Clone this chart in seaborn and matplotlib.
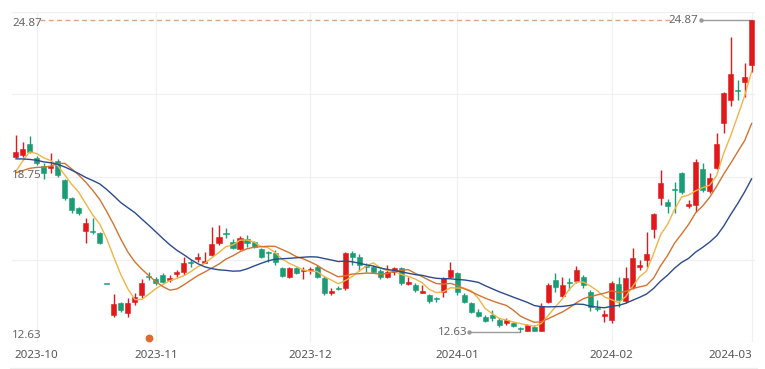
import numpy as np
import pandas as pd
import matplotlib
matplotlib.use("Agg")
import matplotlib.pyplot as plt
from matplotlib.lines import Line2D
from matplotlib.transforms import blended_transform_factory, offset_copy
import seaborn as sns

# ---------------- data ----------------
month_labels = ["2023-10", "2023-11", "2023-12", "2024-01", "2024-02", "2024-03"]
month_start_idx = [3, 20, 42, 63, 85, 105]

open_ = [19.50, 19.57, 20.01, 19.46, 19.14, 19.06, 19.34, 18.59, 17.89, 17.49,
         16.59, 16.59, 16.51, 14.51, 13.30, 13.77, 13.37, 13.81, 14.08, 14.83,
         14.71, 14.87, 14.67, 14.91, 14.98, 15.37, 15.49, 15.34, 15.65, 16.12,
         16.51, 16.16, 15.89, 16.28, 16.16, 15.89, 15.77, 15.73, 15.14, 14.79,
         15.14, 15.02, 15.06, 15.18, 14.75, 14.16, 14.36, 14.36, 15.73, 15.57,
         15.22, 15.18, 15.02, 14.79, 14.98, 15.14, 14.51, 14.47, 14.16, 14.08,
         13.96, 14.20, 14.79, 14.94, 14.08, 13.77, 13.41, 13.22, 13.30, 13.10,
         12.98, 12.98, 12.79, 12.67, 12.83, 12.67, 13.81, 14.67, 14.04, 14.59,
         14.63, 14.79, 14.20, 13.57, 13.26, 13.10, 14.51, 13.85, 14.40, 15.18,
         15.45, 16.67, 17.89, 17.73, 18.24, 18.87, 17.57, 17.61, 19.02, 18.16,
         19.06, 20.83, 21.73, 22.12, 22.44, 23.10]
high = [20.36, 20.08, 20.32, 19.53, 19.26, 19.65, 19.42, 18.63, 17.93, 17.53,
        17.10, 17.10, 16.55, 14.51, 14.12, 13.81, 13.96, 14.16, 14.71, 14.98,
        14.79, 14.94, 14.87, 15.06, 15.57, 15.45, 15.73, 15.77, 16.75, 16.83,
        16.71, 16.28, 16.40, 16.43, 16.20, 15.93, 15.81, 15.85, 15.18, 15.18,
        15.18, 15.18, 15.18, 15.26, 14.83, 14.36, 14.44, 15.77, 15.81, 15.69,
        15.34, 15.26, 15.10, 15.26, 15.18, 15.18, 14.79, 14.55, 14.47, 14.12,
        14.00, 14.79, 15.37, 14.98, 14.16, 13.81, 13.53, 13.30, 13.49, 13.18,
        13.18, 13.02, 12.83, 12.94, 12.90, 13.77, 14.55, 14.94, 14.79, 14.75,
        15.22, 14.87, 14.28, 13.89, 13.49, 14.63, 14.79, 15.18, 15.93, 15.45,
        16.55, 17.30, 18.99, 17.85, 18.51, 18.91, 17.81, 19.42, 19.26, 18.87,
        20.44, 22.05, 24.20, 22.52, 23.18, 24.87]
low = [19.46, 19.50, 19.65, 19.18, 18.63, 18.87, 18.71, 17.81, 17.30, 17.22,
       16.12, 16.47, 16.08, 14.51, 13.22, 13.41, 13.22, 13.69, 13.96, 14.67,
       14.47, 14.55, 14.59, 14.79, 14.87, 15.18, 15.37, 15.34, 15.61, 16.04,
       16.32, 15.89, 15.85, 15.96, 15.93, 15.53, 15.37, 15.26, 14.79, 14.75,
       14.91, 14.71, 14.91, 14.75, 14.08, 14.08, 14.28, 14.28, 15.26, 15.02,
       14.98, 14.94, 14.71, 14.75, 14.87, 14.47, 14.47, 14.20, 14.16, 13.77,
       13.81, 14.00, 14.75, 14.08, 13.77, 13.37, 13.22, 13.02, 13.06, 12.83,
       12.90, 12.83, 12.63, 12.65, 12.65, 12.65, 13.77, 14.20, 14.00, 14.28,
       14.55, 14.36, 13.45, 13.45, 13.02, 12.98, 13.61, 13.77, 14.32, 15.06,
       15.18, 16.32, 17.61, 17.30, 17.30, 18.04, 17.49, 17.34, 18.12, 18.08,
       19.02, 20.44, 21.50, 21.73, 21.85, 22.83]
close = [19.69, 19.81, 19.69, 19.26, 18.87, 19.14, 18.79, 17.89, 17.42, 17.30,
         16.91, 16.55, 16.12, 14.51, 13.73, 13.49, 13.77, 14.00, 14.55, 14.79,
         14.55, 14.59, 14.75, 14.98, 15.34, 15.34, 15.57, 15.41, 16.08, 16.36,
         16.47, 15.93, 16.32, 16.12, 15.96, 15.57, 15.73, 15.37, 14.83, 15.14,
         14.94, 15.06, 15.10, 14.79, 14.16, 14.24, 14.32, 15.73, 15.57, 15.26,
         15.18, 14.98, 14.79, 14.98, 15.14, 14.55, 14.59, 14.28, 14.24, 13.85,
         13.92, 14.75, 15.06, 14.20, 13.81, 13.41, 13.26, 13.06, 13.18, 12.90,
         13.10, 12.87, 12.75, 12.90, 12.67, 13.65, 14.47, 14.40, 14.47, 14.55,
         15.06, 14.47, 13.61, 13.53, 13.34, 14.55, 13.89, 14.75, 15.53, 15.26,
         15.69, 17.26, 18.48, 17.57, 18.20, 18.12, 17.65, 19.30, 18.20, 18.67,
         20.01, 22.01, 22.75, 22.08, 22.63, 24.87]
# closes before the visible window (estimated from the starting levels of the MA lines)
prior_close = [19.90, 20.05, 19.95, 20.10, 19.85, 19.98, 20.02, 19.92, 19.96, 19.97,
               18.95, 18.80, 18.90, 18.75, 18.75, 17.73, 17.89, 19.62, 19.68]
ma_periods = [5, 10, 20]
event_idx = [19]
event_price = [12.41]

# ---------------- styling ----------------
sns.set_theme(style="white")
plt.rcParams["font.family"] = ["Noto Sans", "DejaVu Sans"]

UP = "#e01a1a"
DOWN = "#1a9c74"
MA_COLORS = ["#f2b445", "#d27430", "#2c4b8c"]
GRID = "#f0f0f0"
TXT = "#666666"

n = len(close)
x = np.arange(n)
o = np.array(open_); h = np.array(high); l = np.array(low); c = np.array(close)

fig = plt.figure(figsize=(7.65, 3.69), dpi=100)
ax = fig.add_axes([12.2 / 765, 27 / 369, 743 / 765, 330 / 369])
ax.set_xlim(-0.5, n - 0.5)
ylo, yhi = 12.238, 25.184
ax.set_ylim(ylo, yhi)

for s in ax.spines.values():
    s.set_visible(False)
ax.set_xticks([]); ax.set_yticks([])

# grid
for k in range(5):
    yy = ylo + k * (yhi - ylo) / 4
    ax.axhline(yy, color=GRID, lw=0.9, zorder=0)
for mi in month_start_idx:
    ax.axvline(mi, color=GRID, lw=0.9, zorder=0)

# candles
prev = np.concatenate([[prior_close[-1]], c[:-1]])
is_up = (c > o) | ((c == o) & (c >= prev))
colors = np.where(is_up, UP, DOWN)
ax.vlines(x, l, h, colors=colors, lw=1.0, zorder=2)
body_bottom = np.minimum(o, c)
body_h = np.maximum(np.abs(c - o), 0.035)
ax.bar(x, body_h, bottom=body_bottom, width=0.72, color=colors,
       edgecolor=colors, linewidth=0.4, zorder=3)

# moving averages
full = pd.Series(prior_close + close)
for p, col in zip(ma_periods, MA_COLORS):
    ma = full.rolling(p).mean().to_numpy()[-n:]
    df = pd.DataFrame({"i": x, "ma": ma})
    sns.lineplot(data=df, x="i", y="ma", color=col, lw=1.0, ax=ax, zorder=4)
ax.set_xlabel(""); ax.set_ylabel("")

# max / min markers
imax = int(np.argmax(h)); vmax = h[imax]
imin = int(np.argmin(l)); vmin = l[imin]
vmid = (vmax + vmin) / 2

ax.hlines(vmax, 3.45, imax - 11.5, colors="#d6a784", lw=1.0,
          linestyles=(0, (3.5, 2.5)), zorder=1)
for idx, val in [(imax, vmax), (imin, vmin)]:
    ax.plot([idx - 7.3, idx], [val, val], color="#9a9a9a", lw=1.0, zorder=1)
    ax.plot([idx - 7.3], [val], "o", color="#9a9a9a", ms=2.2, zorder=1)
    ax.text(idx - 7.6, val, f"{val:.2f}", ha="right", va="center",
            fontsize=8.3, color=TXT, zorder=5)

# y labels inside
tr = blended_transform_factory(ax.transAxes, ax.transData)
for val, dy in [(vmax, -2.2), (vmid, 0.5), (vmin, -2.2)]:
    ax.text(0.0, val, f"{val:.2f}", ha="left", va="center", fontsize=8.3,
            color=TXT, transform=offset_copy(tr, fig=fig, x=0, y=dy, units="points"),
            zorder=5)

# event dot
ax.plot(event_idx, event_price, "o", color="#e2692c", ms=4.6, zorder=5, clip_on=False)

# x labels
trx = blended_transform_factory(ax.transData, ax.transAxes)
for k, (lab, mi) in enumerate(zip(month_labels, month_start_idx)):
    last = k == len(month_labels) - 1
    ax.text(mi, -14 / 330, lab,
            ha="right" if last else "center", va="center", fontsize=8.3,
            color="#555555", transform=trx)

fig.add_artist(Line2D([10 / 765, 757 / 765], [1.2 / 369, 1.2 / 369],
                      color="#eeeeee", lw=0.9))

fig.savefig("out.png", dpi=100)
